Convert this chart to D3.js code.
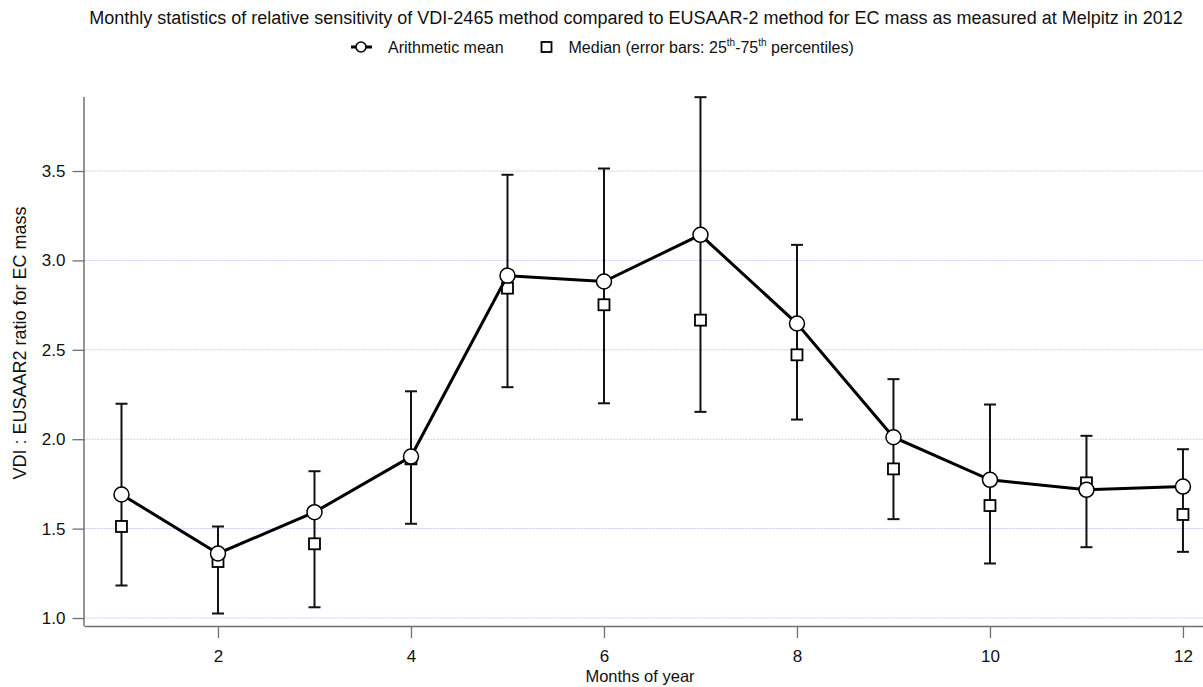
<!DOCTYPE html>
<html><head><meta charset="utf-8">
<script src="https://cdn.jsdelivr.net/npm/d3@7"></script>
<style>body{margin:0;background:#fff;} text{font-family:"Liberation Sans",Arial,sans-serif;}</style>
</head><body>
<svg id="c" width="1203" height="687"></svg>
<script>
const months = [1,2,3,4,5,6,7,8,9,10,11,12];
const meanVals = [1.691,1.361,1.592,1.903,2.915,2.882,3.143,2.647,2.011,1.773,1.717,1.735];
const medianVals = [1.512,1.316,1.415,1.89,2.845,2.752,2.666,2.472,1.834,1.629,1.756,1.579];
const p25Vals = [1.182,1.025,1.06,1.527,2.291,2.201,2.153,2.110,1.553,1.305,1.396,1.370];
const p75Vals = [2.198,1.512,1.821,2.268,3.479,3.514,3.913,3.087,2.336,2.194,2.019,1.944];
const xTicks = [2,4,6,8,10,12];
const yTicks = [1.0,1.5,2.0,2.5,3.0,3.5];

(function(){
const svg = d3.select("#c");
const pL = 84.5, pR = 1215, pT = 97, pB = 626;
const x = d3.scaleLinear().domain([0.6166, 12.332]).range([pL, pR]);
const y = d3.scaleLinear().domain([0.9553, 3.914]).range([pB, pT]);

svg.append("defs").append("clipPath").attr("id","clip").append("rect")
  .attr("x", pL).attr("y", 0).attr("width", 1203-pL).attr("height", pB);

// gridlines
svg.append("g").selectAll("line").data(yTicks).join("line")
  .attr("x1", pL+1).attr("x2", 1203)
  .attr("y1", d=>y(d)).attr("y2", d=>y(d))
  .attr("stroke", "#c8c8f5").attr("stroke-width", 1).attr("stroke-dasharray", "2,1");

// axes
const yAxis = svg.append("g").attr("transform", `translate(${pL},0)`)
  .call(d3.axisLeft(y).tickValues(yTicks).tickFormat(d3.format(".1f")).tickSize(12).tickPadding(7));
const xAxis = svg.append("g").attr("transform", `translate(0,${pB})`)
  .call(d3.axisBottom(x).tickValues(xTicks).tickFormat(d3.format("d")).tickSize(12).tickPadding(12));
[yAxis, xAxis].forEach(a => {
  a.select(".domain").attr("stroke", "#707070").attr("stroke-width", 1.5);
  a.selectAll(".tick line").attr("stroke", "#707070").attr("stroke-width", 1.3);
  a.selectAll(".tick text").attr("fill", "#111").attr("font-size", 17)
    .attr("font-family", "Liberation Sans, Arial, sans-serif");
});
yAxis.select(".domain").attr("d", `M-0.5,${pT}V${pB}`);
xAxis.select(".domain").attr("d", `M${pL},0.5H1203`);

// axis titles
svg.append("text").attr("x", 640).attr("y", 682).attr("text-anchor", "middle")
  .attr("font-size", 16.5).attr("fill", "#111").text("Months of year");
svg.append("text").attr("transform", "translate(26,343) rotate(-90)").attr("text-anchor", "middle")
  .attr("font-size", 18).attr("fill", "#111").text("VDI : EUSAAR2 ratio for EC mass");

// title
svg.append("text").attr("x", 636).attr("y", 24).attr("text-anchor", "middle")
  .attr("font-size", 18).attr("fill", "#111")
  .text("Monthly statistics of relative sensitivity of VDI-2465 method compared to EUSAAR-2 method for EC mass as measured at Melpitz in 2012");

// legend
const lg = svg.append("g");
lg.append("line").attr("x1", 351).attr("x2", 372).attr("y1", 47).attr("y2", 47)
  .attr("stroke", "#000").attr("stroke-width", 3);
lg.append("circle").attr("cx", 361).attr("cy", 47).attr("r", 5)
  .attr("fill", "#fff").attr("stroke", "#000").attr("stroke-width", 1.6);
lg.append("text").attr("x", 388).attr("y", 53).attr("font-size", 16).attr("fill", "#111").text("Arithmetic mean");
lg.append("rect").attr("x", 541.5).attr("y", 42).attr("width", 10).attr("height", 10)
  .attr("fill", "#fff").attr("stroke", "#000").attr("stroke-width", 1.8);
const lt = lg.append("text").attr("x", 568.5).attr("y", 53).attr("font-size", 16).attr("fill", "#111");
lt.append("tspan").text("Median (error bars: 25");
lt.append("tspan").attr("font-size", 10).attr("dy", -7).text("th");
lt.append("tspan").attr("dy", 7).text("-75");
lt.append("tspan").attr("font-size", 10).attr("dy", -7).text("th");
lt.append("tspan").attr("dy", 7).text(" percentiles)");

const data = months.map((m,i)=>({m, mean:meanVals[i], med:medianVals[i], lo:p25Vals[i], hi:p75Vals[i]}));
const plot = svg.append("g").attr("clip-path", "url(#clip)");

// error bars
const eb = plot.append("g").attr("stroke", "#111").attr("stroke-width", 2);
eb.selectAll("line.v").data(data).join("line").attr("class","v")
  .attr("x1", d=>x(d.m)).attr("x2", d=>x(d.m)).attr("y1", d=>y(d.lo)).attr("y2", d=>y(d.hi));
eb.selectAll("line.t").data(data).join("line").attr("class","t")
  .attr("x1", d=>x(d.m)-6).attr("x2", d=>x(d.m)+6).attr("y1", d=>y(d.hi)).attr("y2", d=>y(d.hi));
eb.selectAll("line.b").data(data).join("line").attr("class","b")
  .attr("x1", d=>x(d.m)-6).attr("x2", d=>x(d.m)+6).attr("y1", d=>y(d.lo)).attr("y2", d=>y(d.lo));

// median squares
plot.append("g").selectAll("rect").data(data).join("rect")
  .attr("x", d=>x(d.m)-5.5).attr("y", d=>y(d.med)-5.5).attr("width", 11).attr("height", 11)
  .attr("fill", "#fff").attr("stroke", "#000").attr("stroke-width", 1.8);

// mean line
plot.append("path").datum(data)
  .attr("d", d3.line().x(d=>x(d.m)).y(d=>y(d.mean)))
  .attr("fill", "none").attr("stroke", "#000").attr("stroke-width", 3);

plot.append("g").selectAll("circle").data(data).join("circle")
  .attr("cx", d=>x(d.m)).attr("cy", d=>y(d.mean)).attr("r", 7.5)
  .attr("fill", "#fff").attr("stroke", "#000").attr("stroke-width", 1.5);
})();
</script>
</body></html>
